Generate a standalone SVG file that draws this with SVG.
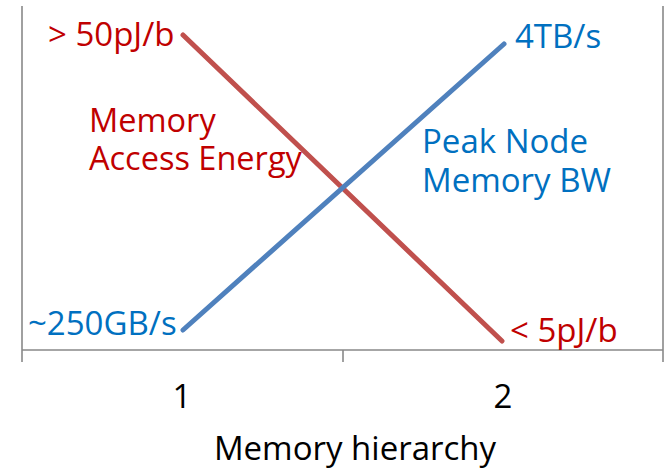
<svg xmlns="http://www.w3.org/2000/svg" width="668" height="469" viewBox="0 0 668 469">
<style>
.ax{stroke:#898989;stroke-width:1.6;fill:none}
.ln{stroke-width:5;stroke-linecap:round;fill:none}
text{font-family:"Open Sans","Noto Sans",sans-serif;font-size:33px}
.r{fill:#C00000}.b{fill:#0070C0}.k{fill:#000}
</style>
<rect width="668" height="469" fill="#fff"/>
<g id="axes">
<path class="ax" d="M22,6V362M22,350H663M343,350V362M663,6V362"/>
</g>
<g id="connectors">
<line class="ln" x1="183" y1="35" x2="502" y2="341" stroke="#C0504D"/>
<line class="ln" x1="183" y1="330" x2="504" y2="44" stroke="#4F81BD"/>
</g>
<g id="labels">
<text class="r" x="48" y="46">&gt; 50pJ/b</text>
<text class="b" x="515" y="48">4TB/s</text>
<g id="energy-label">
<text class="r" style="font-size:32.5px"><tspan x="89" y="132">Memory</tspan><tspan x="89" y="170">Access Energy</tspan></text>
</g>
<g id="bw-label">
<text class="b"><tspan x="422" y="153">Peak Node</tspan><tspan x="422" y="192">Memory BW</tspan></text>
</g>
<text class="b" x="28" y="335">~250GB/s</text>
<text class="r" x="510" y="342">&lt; 5pJ/b</text>
<text class="k" x="182" y="408" text-anchor="middle">1</text>
<text class="k" x="503" y="408" text-anchor="middle">2</text>
<text class="k" x="355" y="460" text-anchor="middle">Memory hierarchy</text>
</g>
</svg>
